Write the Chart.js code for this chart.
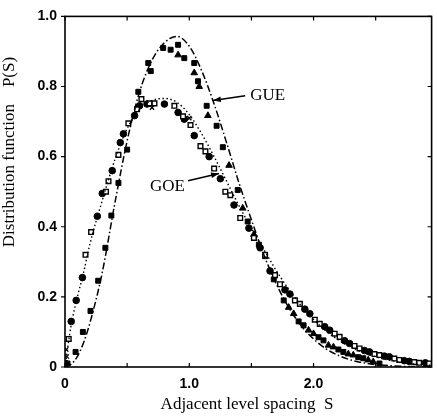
<!DOCTYPE html>
<html lang="en">
<head>
<meta charset="UTF-8">
<title>Level spacing distribution</title>
<style>
  body { margin: 0; background: #fff; }
  canvas { display: block; }
</style>
</head>
<body>
<canvas id="canvas_spacing" width="437" height="418"></canvas>
<script src="https://cdn.jsdelivr.net/npm/chart.js"></script>
<script>
// theory curves (GOE dotted, GUE dashed)
const curveS   = [0, 0.05, 0.1, 0.15, 0.2, 0.3, 0.4, 0.5, 0.6, 0.7, 0.8, 0.9, 1.0, 1.1, 1.2, 1.3, 1.4, 1.5, 1.6, 1.7, 1.8, 1.9, 2.0, 2.1, 2.2, 2.3, 2.4, 2.5, 2.6, 2.7, 2.8, 2.9, 3.0];
const goeCurve = [0, 0.12, 0.20, 0.27, 0.35, 0.475, 0.59, 0.68, 0.735, 0.76, 0.766, 0.755, 0.72, 0.665, 0.60, 0.53, 0.46, 0.395, 0.335, 0.275, 0.222, 0.175, 0.136, 0.103, 0.077, 0.057, 0.041, 0.029, 0.020, 0.014, 0.009, 0.006, 0.004];
const gueCurve = [0, 0.008, 0.03, 0.07, 0.125, 0.27, 0.465, 0.645, 0.785, 0.875, 0.925, 0.943, 0.915, 0.845, 0.75, 0.64, 0.525, 0.42, 0.32, 0.237, 0.17, 0.118, 0.08, 0.052, 0.033, 0.02, 0.012, 0.007, 0.004, 0.002, 0.001, 0.0005, 0.0002];

// measured spacings
const goeOpenS = [0.03, 0.165, 0.21, 0.33, 0.35, 0.43, 0.51, 0.58, 0.615, 0.68, 0.72, 0.88, 0.95, 1.01, 1.09, 1.13, 1.20, 1.29, 1.33, 1.41, 1.52, 1.61, 1.69, 1.73, 1.85, 1.89, 2.01, 2.05, 2.17, 2.21, 2.33, 2.37, 2.49, 2.53, 2.65, 2.69, 2.81, 2.85, 2.93];
const goeOpenP = [0.08, 0.32, 0.385, 0.50, 0.53, 0.605, 0.695, 0.735, 0.764, 0.752, 0.752, 0.745, 0.715, 0.69, 0.63, 0.615, 0.566, 0.50, 0.49, 0.425, 0.368, 0.32, 0.262, 0.236, 0.19, 0.18, 0.135, 0.123, 0.095, 0.086, 0.06, 0.053, 0.037, 0.034, 0.024, 0.02, 0.014, 0.012, 0.01];
const goeFullS = [0.005, 0.05, 0.09, 0.14, 0.26, 0.30, 0.38, 0.445, 0.47, 0.56, 0.60, 0.66, 0.80, 0.91, 0.96, 1.04, 1.16, 1.25, 1.36, 1.48, 1.57, 1.65, 1.77, 1.81, 1.93, 1.97, 2.09, 2.13, 2.25, 2.29, 2.41, 2.45, 2.57, 2.61, 2.73, 2.77, 2.90];
const goeFullP = [0.01, 0.13, 0.19, 0.255, 0.43, 0.495, 0.56, 0.64, 0.665, 0.717, 0.745, 0.75, 0.75, 0.726, 0.707, 0.66, 0.60, 0.537, 0.462, 0.396, 0.34, 0.274, 0.22, 0.208, 0.165, 0.152, 0.115, 0.105, 0.075, 0.067, 0.047, 0.043, 0.031, 0.029, 0.018, 0.016, 0.012];
const gueFullS = [0.02, 0.085, 0.144, 0.205, 0.267, 0.325, 0.373, 0.43, 0.50, 0.59, 0.67, 0.69, 0.79, 0.85, 0.91, 0.96, 1.04, 1.07, 1.14, 1.22, 1.27, 1.39, 1.47, 1.56, 1.61, 1.68, 1.76, 1.88, 1.92, 2.04, 2.08, 2.20, 2.24, 2.36, 2.40, 2.53];
const gueFullP = [0.01, 0.043, 0.10, 0.16, 0.246, 0.34, 0.432, 0.525, 0.62, 0.785, 0.867, 0.844, 0.91, 0.905, 0.919, 0.881, 0.867, 0.815, 0.745, 0.688, 0.627, 0.505, 0.415, 0.349, 0.316, 0.25, 0.19, 0.13, 0.119, 0.085, 0.076, 0.05, 0.043, 0.028, 0.025, 0.01];
const gueTriS  = [0.91, 1.04, 1.08, 1.15, 1.32, 1.43, 1.52, 1.80, 1.84, 1.96, 2.00, 2.12, 2.16, 2.28, 2.32, 2.44, 2.48];
const gueTriP  = [0.89, 0.839, 0.80, 0.717, 0.575, 0.453, 0.378, 0.17, 0.152, 0.105, 0.095, 0.062, 0.057, 0.037, 0.034, 0.02, 0.015];
const crossS   = [0.01, 0.015, 0.70, 1.00];
const crossP   = [0.05, 0.03, 0.74, 0.71];

// tick labels
const xTickLabels = { 0: '0', 1: '1.0', 2: '2.0' };

function pontos(xs, ys) {
    return xs.map(function (x, i) { return { x: x, y: ys[i] }; });
}

function seta(ctx, x1, y1, x2, y2) {
    ctx.beginPath();
    ctx.moveTo(x1, y1);
    ctx.lineTo(x2, y2);
    ctx.stroke();
    const ang = Math.atan2(y2 - y1, x2 - x1);
    ctx.beginPath();
    ctx.moveTo(x2, y2);
    ctx.lineTo(x2 - 8 * Math.cos(ang) + 2.8 * Math.sin(ang), y2 - 8 * Math.sin(ang) - 2.8 * Math.cos(ang));
    ctx.lineTo(x2 - 8 * Math.cos(ang) - 2.8 * Math.sin(ang), y2 - 8 * Math.sin(ang) + 2.8 * Math.cos(ang));
    ctx.closePath();
    ctx.fill();
}

// frame, inward ticks, axis titles and the GOE / GUE labels
const moldura = {
    id: 'moldura',
    afterDraw(chart) {
        const ctx = chart.ctx;
        const a = chart.chartArea;
        const sx = chart.scales.x;
        const sy = chart.scales.y;
        ctx.save();
        ctx.strokeStyle = '#000';
        ctx.fillStyle = '#000';
        ctx.lineWidth = 1.6;
        ctx.strokeRect(a.left, a.top, a.right - a.left, a.bottom - a.top);

        ctx.lineWidth = 1.2;
        ctx.beginPath();
        sx.ticks.forEach(function (t) {
            const px = sx.getPixelForValue(t.value);
            ctx.moveTo(px, a.bottom); ctx.lineTo(px, a.bottom - 4);
            ctx.moveTo(px, a.top); ctx.lineTo(px, a.top + 4);
        });
        sy.ticks.forEach(function (t) {
            const py = sy.getPixelForValue(t.value);
            ctx.moveTo(a.left - 4, py); ctx.lineTo(a.left, py);
            ctx.moveTo(a.right, py); ctx.lineTo(a.right - 4, py);
        });
        ctx.stroke();

        ctx.font = '17px "Liberation Serif"';
        ctx.textAlign = 'center';
        ctx.textBaseline = 'middle';
        ctx.fillText('Adjacent level spacing  S', 247, 405);
        ctx.save();
        ctx.translate(10, 152);
        ctx.rotate(-Math.PI / 2);
        ctx.fillText('Distribution function    P(S)', 0, 0);
        ctx.restore();

        ctx.lineWidth = 1.5;
        ctx.textAlign = 'left';
        ctx.fillText('GUE', sx.getPixelForValue(1.49), sy.getPixelForValue(0.774));
        seta(ctx, sx.getPixelForValue(1.45), sy.getPixelForValue(0.774), sx.getPixelForValue(1.19), sy.getPixelForValue(0.76));
        ctx.textAlign = 'right';
        ctx.fillText('GOE', sx.getPixelForValue(0.965), sy.getPixelForValue(0.515));
        seta(ctx, sx.getPixelForValue(0.99), sy.getPixelForValue(0.531), sx.getPixelForValue(1.24), sy.getPixelForValue(0.552));
        ctx.restore();
    }
};

const dados = {
    datasets: [
        {
            label: 'GOE',
            data: pontos(curveS, goeCurve),
            showLine: true,
            borderColor: '#000',
            borderWidth: 1.4,
            borderDash: [1.5, 2.5],
            pointRadius: 0,
            cubicInterpolationMode: 'monotone'
        },
        {
            label: 'GUE',
            data: pontos(curveS, gueCurve),
            showLine: true,
            borderColor: '#000',
            borderWidth: 1.5,
            borderDash: [7, 2.5, 1.5, 2.5],
            pointRadius: 0,
            cubicInterpolationMode: 'monotone'
        },
        {
            label: 'GOE open',
            data: pontos(goeOpenS, goeOpenP),
            pointStyle: 'rect',
            pointRadius: 3.3,
            backgroundColor: '#fff',
            borderColor: '#000',
            borderWidth: 1.4
        },
        {
            label: 'GOE full',
            data: pontos(goeFullS, goeFullP),
            pointStyle: 'circle',
            pointRadius: 3.3,
            backgroundColor: '#000',
            borderColor: '#000',
            borderWidth: 1
        },
        {
            label: 'GUE full',
            data: pontos(gueFullS, gueFullP),
            pointStyle: 'rect',
            pointRadius: 3.5,
            backgroundColor: '#000',
            borderColor: '#000',
            borderWidth: 1
        },
        {
            label: 'GUE tri',
            data: pontos(gueTriS, gueTriP),
            pointStyle: 'triangle',
            pointRadius: 3.8,
            backgroundColor: '#000',
            borderColor: '#000',
            borderWidth: 1
        },
        {
            label: 'cross',
            data: pontos(crossS, crossP),
            pointStyle: 'crossRot',
            pointRadius: 3,
            borderColor: '#000',
            borderWidth: 1.3
        }
    ]
};

const config = {
    type: 'scatter',
    data: dados,
    options: {
        responsive: false,
        animation: false,
        devicePixelRatio: 1,
        layout: { padding: { top: 11, right: 1, left: 0, bottom: 0 } },
        plugins: { legend: { display: false }, tooltip: { enabled: false } },
        scales: {
            x: {
                type: 'linear',
                min: 0,
                max: 2.95,
                grid: { display: false, drawTicks: false },
                border: { display: false },
                afterFit: function (s) { s.height = 51; },
                ticks: {
                    stepSize: 0.5,
                    includeBounds: false,
                    autoSkip: false,
                    maxRotation: 0,
                    padding: 9,
                    color: '#000',
                    font: { family: '"Liberation Sans"', size: 14, weight: 'bold' },
                    callback: function (v) {
                        return xTickLabels[v] !== undefined ? xTickLabels[v] : '';
                    }
                }
            },
            y: {
                min: 0,
                max: 1,
                grid: { display: false, drawTicks: false },
                border: { display: false },
                afterFit: function (s) { s.width = 65; },
                ticks: {
                    stepSize: 0.2,
                    padding: 8,
                    color: '#000',
                    font: { family: '"Liberation Sans"', size: 14, weight: 'bold' },
                    callback: function (v) {
                        return v === 0 ? '0' : v.toFixed(1);
                    }
                }
            }
        }
    },
    plugins: [moldura]
};

let graficoSpacing = new Chart(document.getElementById('canvas_spacing'), config);
</script>
</body>
</html>
